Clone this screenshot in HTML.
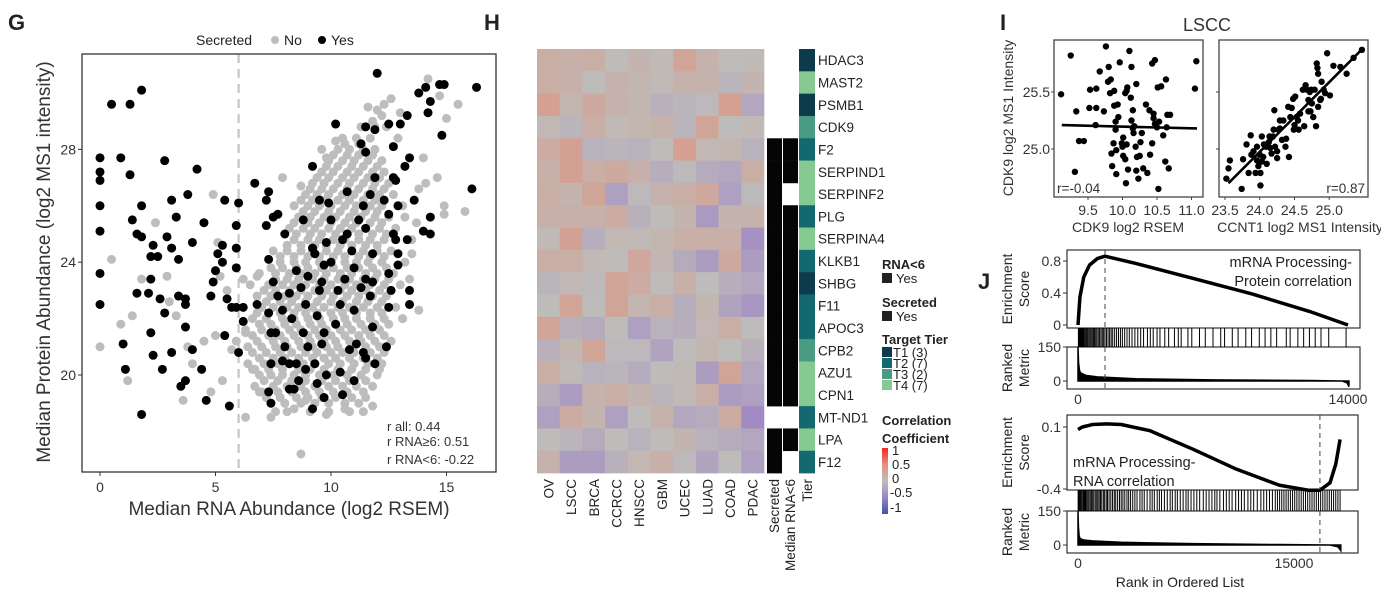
<!DOCTYPE html>
<html><head><meta charset="utf-8">
<style>
html,body{margin:0;padding:0;background:#fff;}
svg{display:block;font-family:"Liberation Sans",Arial,sans-serif;}
</style></head>
<body>
<svg id="fig" width="1381" height="601" viewBox="0 0 1381 601" xmlns="http://www.w3.org/2000/svg">
<defs>
<clipPath id="gclip"><rect x="82" y="54" width="414" height="418"/></clipPath>
<linearGradient id="corrgrad" x1="0" y1="0" x2="0" y2="1">
<stop offset="0" stop-color="#ee2a22"/><stop offset="0.25" stop-color="#e58f80"/><stop offset="0.5" stop-color="#bdbdbd"/><stop offset="0.75" stop-color="#9b84c4"/><stop offset="1" stop-color="#3a55b0"/>
</linearGradient>
</defs>
<!-- Panel letters -->
<text x="8" y="30" font-size="22" font-weight="bold" fill="#222">G</text>
<text x="484" y="30" font-size="22" font-weight="bold" fill="#222">H</text>
<text x="1000" y="30" font-size="22" font-weight="bold" fill="#222">I</text>
<text x="978" y="289" font-size="22" font-weight="bold" fill="#222">J</text>

<!-- G legend -->
<g>
<text x="196" y="45" font-size="14" fill="#222">Secreted</text>
<circle cx="275" cy="40" r="4" fill="#bdbdbd"/>
<text x="284" y="45" font-size="14" fill="#222">No</text>
<circle cx="322" cy="40" r="4" fill="#000"/>
<text x="331" y="45" font-size="14" fill="#222">Yes</text>
</g>
<g id="gplot"></g>
<rect x="82" y="54" width="414" height="418" fill="none" stroke="#333" stroke-width="1.3"/>
<text x="289" y="515" font-size="19" fill="#333" text-anchor="middle">Median RNA Abundance (log2 RSEM)</text>
<text transform="translate(50,262) rotate(-90)" font-size="19" fill="#333" text-anchor="middle">Median Protein Abundance (log2 MS1 intensity)</text>
<g font-size="13" fill="#333">
<text x="387" y="431">r all: 0.44</text>
<text x="387" y="446">r RNA≥6: 0.51</text>
<text x="387" y="464">r RNA&lt;6: -0.22</text>
</g>

<!-- H -->
<g id="hplot"></g>
<g font-size="13" fill="#222">
<text x="882" y="269" font-weight="bold">RNA&lt;6</text>
<rect x="882" y="273" width="10" height="10" fill="#222"/>
<text x="896" y="283">Yes</text>
<text x="882" y="307" font-weight="bold">Secreted</text>
<rect x="882" y="311" width="10" height="10" fill="#222"/>
<text x="896" y="321">Yes</text>
<text x="882" y="344" font-weight="bold">Target Tier</text>
<rect x="882" y="347" width="10" height="10" fill="#0d3b4c"/>
<text x="893" y="357">T1 (3)</text>
<rect x="882" y="358" width="10" height="10" fill="#146870"/>
<text x="893" y="368">T2 (7)</text>
<rect x="882" y="369" width="10" height="10" fill="#4a9b84"/>
<text x="893" y="379">T3 (2)</text>
<rect x="882" y="380" width="10" height="10" fill="#86c991"/>
<text x="893" y="390">T4 (7)</text>
<text x="882" y="425" font-weight="bold">Correlation</text>
<text x="882" y="443" font-weight="bold">Coefficient</text>
<rect x="882" y="448" width="6" height="66" fill="url(#corrgrad)"/>
<text x="892" y="455">1</text>
<text x="892" y="469">0.5</text>
<text x="892" y="483">0</text>
<text x="890" y="497">-0.5</text>
<text x="890" y="512">-1</text>
</g>

<!-- I -->
<text x="1207" y="31" font-size="18" fill="#333" text-anchor="middle">LSCC</text>
<g id="iplot"></g>
<text transform="translate(1013,118) rotate(-90)" font-size="14" fill="#333" text-anchor="middle">CDK9 log2 MS1 Intensity</text>
<text x="1128" y="232" font-size="14" fill="#333" text-anchor="middle">CDK9 log2 RSEM</text>
<text x="1300" y="232" font-size="14" fill="#333" text-anchor="middle">CCNT1 log2 MS1 Intensity</text>

<!-- J -->
<g id="jplot"></g>
<text x="1180" y="587" font-size="14" fill="#222" text-anchor="middle">Rank in Ordered List</text>

<script>
// ---------------- Panel G data ----------------
const gYes = [[0.5,29.6],[1.3,29.6],[1.8,30.1],[0,27.7],[0.9,27.7],[0,27.2],[0,26.9],[1.3,27.1],[2.8,27.6],[4.2,27.3],[0,26],[1.8,26],[3.1,26.2],[1.4,25.5],[3.3,25.6],[3.8,26.4],[0,25.1],[1.6,25],[1.8,24.9],[2.3,24.6],[2.2,24.2],[2.5,24.2],[2.9,24.9],[3.1,24.5],[3.4,24.1],[4,24.7],[4.5,25.4],[0,23.6],[1.6,22.9],[2.1,22.9],[2.2,23.4],[2.6,22.7],[3.4,22.8],[3.7,22.7],[3.7,22.5],[2.8,22.2],[2.2,21.5],[3.7,21.7],[2.3,20.7],[3.1,20.8],[4,20.9],[1,21.1],[1.1,20.2],[2.7,20.2],[0,22.5],[1.8,18.6],[3.5,19.6],[3.7,19.8],[4.4,20.2],[4.6,19.1],[4.8,22.8],[4.9,23.3],[5,23.7],[5.1,24.3],[5.3,24.6],[5.3,24],[5.4,26.2],[5.9,25.3],[5.9,24.5],[6,26.1],[5.9,23.8],[5.5,22.7],[5.7,22.4],[5.9,22.4],[6.2,22.4],[5.4,21.4],[6,20.8],[5.6,18.9],[6.2,21.9],[6.7,26.8],[6.8,22.5],[7.2,26.2],[7.3,26.5],[7.2,25.3],[7.3,24.1],[7.5,25.6],[7.7,25.7],[8,25],[7.5,23.3],[7.7,22.8],[7.3,22.2],[7.4,21.5],[7.4,20.4],[7.3,19.4],[7.4,19],[7.9,20.5],[8.2,20.4],[8.2,19.5],[8.4,19.5],[8.5,20.4],[8.9,20.2],[8.6,19.8],[8.2,22.9],[8.7,23.1],[9,23.5],[9.2,27.4],[9.5,26.2],[9.9,26.1],[8.8,25.5],[9.8,24.7],[10.2,28.9],[9.3,24.3],[9.7,23.9],[9.6,23.3],[8.9,22.5],[9.4,22.1],[9.7,21.5],[9.6,21.1],[9.3,20.4],[9.2,18.8],[9.7,19.2],[10.4,20.1],[10.5,19.3],[10.7,25],[10.9,24.4],[10.6,23.4],[10.4,22.5],[11,23.8],[11.3,23.1],[11.5,23.4],[11.1,21.1],[11.4,20.8],[11.5,20.6],[11.9,20.4],[11.7,22.8],[11.8,23.3],[11.8,24.3],[11.5,25.2],[11.4,26],[11.7,26.4],[11.9,27],[11.5,27.9],[11.3,28.2],[11.9,28.7],[11.5,28.8],[12,30.7],[12.5,28.9],[12.7,28.1],[12.7,27],[12.8,26.9],[12.3,26.2],[12.5,25.7],[12.7,25],[12.8,24.8],[12.5,23.6],[12.6,23],[12.5,22.4],[12.4,21],[12.9,24.3],[12.9,23.9],[13.3,24.8],[13.4,27.7],[13.2,27.4],[13,28.9],[13.3,29.2],[13.6,26.2],[13.4,23],[13.4,22.5],[13.8,30],[14.1,30.2],[14.3,29.7],[14.2,29.3],[14.7,30.3],[14.9,30.3],[14.8,28.5],[16.1,26.6],[16.3,30.2],[14.3,25.6],[14,25.1],[14.3,25],[12.9,26],[8.3,22],[8.8,21.5],[9,21],[8.5,23.7],[9.5,23],[10,24],[10.3,23],[10.5,24.8],[10.2,21.8],[11,22.3],[10.8,20.9],[9.8,20],[11.2,25.5],[10,25.5],[9.2,24.5],[8,21],[7.6,21.5],[7.9,22.3],[9.4,19.7],[10.7,26.5],[11.8,21.7],[11,19.8]];
const gNoScatter = [[0,21],[0.5,24.1],[1.2,19.8],[1.4,22.1],[0.9,21.8],[1.8,23.4],[2.4,25.4],[2.9,23.5],[3,22.6],[3.3,22.1],[3.6,19.1],[3.8,21],[4,20.4],[4.5,21.2],[4.9,26.4],[5.1,24.7],[5.2,23.5],[5.5,23],[5,21.4],[5.3,19.8],[4.8,19.4],[6.3,18.5],[5.7,20.9],[6.2,23.4],[6.5,23.2],[6.8,23.5],[6.3,21.5],[6.6,20.2],[6.9,19.4],[7.4,18.5],[7.9,27],[8.7,26.7],[8.7,17.2],[14.6,27],[14,27.7],[14.1,26.8],[14.9,25.7],[14.9,26],[15.8,25.8],[15.5,29.6],[15,29.1],[14.2,30.5],[14.7,29.9],[13.8,22.3],[13.5,24.3],[13.4,23.4],[13.1,22],[12.3,29.6],[11.8,29],[10.2,28.3],[9.6,28],[9.8,27.7],[10.6,18.8],[11.8,18.9],[9.8,18.6],[8.4,18.8],[8.9,19.1],[12.0,29.4],[12.6,29.8],[11.6,29.5],[13.0,29.3],[13.7,25.4],[13.8,26.6],[13.2,25.6],[12.9,28.4]];
const gNoRowY = [18.7,19.2,19.6,20.0,20.4,20.8,21.2,21.6,22.0,22.4,22.8,23.2,23.6,24.0,24.4,24.8,25.2,25.6,26.0,26.4,26.8,27.2,27.6,28.0,28.4,28.8,29.2];
const gNoRowX = [
[7.6,8.1,9.1,9.9,10.8,11.4],
[7.2,7.8,8.5,9.0,9.6,10.2,10.9,11.5],
[6.7,7.5,8.1,8.7,9.3,9.9,10.5,11.1,11.8],
[6.9,7.4,7.9,8.4,8.9,9.5,10.1,10.7,11.3,12.0],
[6.4,7.1,7.7,8.2,8.8,9.3,9.9,10.4,11.0,11.6,12.2],
[6.6,7.2,7.8,8.3,8.9,9.4,10.0,10.5,11.0,11.7,12.3],
[5.9,6.8,7.5,8.0,8.6,9.1,9.7,10.2,10.8,11.3,11.9,12.6],
[6.3,7.0,7.6,8.2,8.7,9.3,9.8,10.4,10.9,11.5,12.1],
[6.6,7.2,7.9,8.4,9.0,9.5,10.1,10.6,11.1,11.7,12.3,13.1],
[7.0,7.5,8.1,8.6,9.2,9.7,10.3,10.8,11.4,12.0,12.8],
[6.8,7.4,8.0,8.5,9.0,9.6,10.1,10.7,11.2,11.8,12.4],
[7.3,7.9,8.4,8.9,9.5,10.0,10.6,11.1,11.7,12.3,13.0],
[6.9,7.6,8.2,8.7,9.3,9.8,10.4,10.9,11.5,12.0,12.7],
[7.8,8.4,8.9,9.5,10.0,10.6,11.1,11.6,12.2,13.2],
[7.5,8.1,8.7,9.2,9.8,10.3,10.9,11.4,12.0,12.6],
[8.4,9.0,9.5,10.1,10.6,11.2,11.7,12.3,13.5],
[8.2,8.8,9.3,9.9,10.4,10.9,11.5,12.1,12.8],
[8.6,9.1,9.7,10.2,10.8,11.3,11.9,12.5],
[8.4,9.0,9.5,10.0,10.6,11.1,11.7,12.2,13.1],
[8.9,9.4,9.9,10.5,11.0,11.6,12.1,12.7],
[9.2,9.7,10.3,10.8,11.4,11.9,12.5],
[9.6,10.1,10.7,11.2,11.8,12.3],
[9.9,10.5,11.0,11.6,12.2],
[10.3,10.8,11.4,11.9],
[10.5,11.1,11.7],
[11.3,11.9,12.4],
[12.2]];
const gNoRowY2 = [19.0,19.4,19.8,20.2,20.6,21.0,21.4,21.8,22.2,22.6,23.0,23.4,23.8,24.2,24.6,25.0,25.4,25.8,26.2,26.6,27.0,27.4,27.8,28.2];
const gNoRowX2 = [
[7.4,8.0,8.7,9.3,9.9,10.6,11.2],
[7.0,7.7,8.3,8.9,9.5,10.1,10.7,11.4],
[7.1,7.7,8.3,8.9,9.6,10.2,10.8,11.5],
[6.7,7.3,7.9,8.6,9.1,9.7,10.3,10.9,11.5,12.1],
[6.9,7.5,8.0,8.6,9.2,9.7,10.2,10.8,11.4,12.0],
[6.4,7.0,7.6,8.1,8.7,9.2,9.8,10.3,10.9,11.5,12.1],
[6.6,7.3,7.8,8.4,9.0,9.5,10.0,10.6,11.2,11.7,12.3],
[6.9,7.4,8.0,8.5,9.1,9.6,10.2,10.7,11.3,11.9,12.5],
[6.8,7.3,7.8,8.4,8.9,9.4,10.0,10.5,11.1,11.7,12.2],
[7.2,7.8,8.3,8.9,9.4,10.0,10.5,11.1,11.6,12.2],
[7.1,7.6,8.2,8.7,9.3,9.8,10.4,10.9,11.5,12.1,12.6],
[7.6,8.1,8.6,9.2,9.7,10.3,10.8,11.4,11.9,12.5],
[7.4,7.9,8.5,9.0,9.6,10.1,10.7,11.2,11.8,12.4],
[7.8,8.4,9.0,9.5,10.1,10.6,11.2,11.7,12.3],
[8.1,8.7,9.3,9.8,10.4,10.9,11.5,12.0],
[8.5,9.1,9.6,10.2,10.7,11.2,11.8,12.4],
[8.4,9.0,9.5,10.0,10.6,11.1,11.7,12.2],
[8.8,9.3,9.9,10.4,11.0,11.5,12.0],
[8.7,9.2,9.7,10.3,10.8,11.4,11.9],
[9.1,9.6,10.1,10.7,11.2,11.8,12.3],
[9.4,9.9,10.5,11.0,11.6,12.1],
[9.8,10.3,10.9,11.4,12.0],
[10.1,10.7,11.2,11.8],
[10.6,11.2]];
const gXTicks = [0,5,10,15];
const gYTicks = [20,24,28];
const gCutoff = 6;

// ---------------- Panel H data ----------------
const hCols = ["OV","LSCC","BRCA","CCRCC","HNSCC","GBM","UCEC","LUAD","COAD","PDAC"];
const hGenes = ["HDAC3","MAST2","PSMB1","CDK9","F2","SERPIND1","SERPINF2","PLG","SERPINA4","KLKB1","SHBG","F11","APOC3","CPB2","AZU1","CPN1","MT-ND1","LPA","F12"];
const hVals = [
[.15,.12,.15,0,.08,.03,.25,.1,0,.02],
[.15,.12,0,.1,.07,.03,.1,.1,-.05,.08],
[.3,.07,.2,.1,.07,-.08,-.05,-.03,.3,-.15],
[.04,-.05,.15,.02,.07,.1,-.05,.25,0,.03],
[.18,.28,-.07,-.05,-.07,0,.3,.05,.07,-.07],
[.12,.28,.15,.2,.12,-.1,-.02,-.12,-.15,.15],
[.15,.08,.25,-.2,-.03,.1,.15,.22,-.2,-.02],
[.12,.12,.12,.18,-.08,0,.08,-.25,.08,.1],
[.03,.28,-.1,.05,.03,.07,.13,.13,.13,-.3],
[.15,.15,.03,0,.22,.06,-.12,-.22,.2,-.22],
[-.05,.04,-.03,.25,.18,0,.13,0,-.1,-.15],
[0,.25,0,.25,.07,.15,-.1,.07,-.18,-.28],
[.25,-.08,-.12,0,-.2,-.07,-.1,.05,.15,0],
[-.08,.07,.25,-.03,-.03,-.18,0,.07,0,-.08],
[.15,.02,-.07,-.05,-.12,0,.02,-.22,.25,-.15],
[-.1,-.22,.1,.15,.08,-.05,.03,.15,-.22,-.2],
[-.2,.18,.08,-.2,0,.1,-.15,-.12,.18,-.35],
[0,-.05,-.12,0,-.07,0,.08,-.07,-.12,-.15],
[.1,-.22,-.22,-.08,.05,.12,-.03,-.17,0,-.2]];
const hSecreted = [0,0,0,0,1,1,1,1,1,1,1,1,1,1,1,1,0,1,1];
const hRnaLow   = [0,0,0,0,1,1,0,1,1,1,1,1,1,1,1,1,0,1,0];
const hTier     = [1,4,1,3,2,4,4,2,4,2,1,2,2,3,4,4,2,4,2];
const tierColors = ["","#0d3b4c","#146870","#4a9b84","#86c991"];

// ---------------- Panel I data ----------------
const iLeftX = [9.11,9.25,9.33,9.31,9.37,9.44,9.53,9.62,9.61,9.52,9.62,9.67,9.73,9.76,9.80,9.79,9.82,9.88,9.90,9.91,9.90,9.88,9.83,9.84,9.85,9.87,9.91,9.93,9.94,9.96,9.99,10.00,10.01,10.01,10.04,10.06,10.07,10.04,10.05,10.06,10.08,10.10,10.13,10.12,10.13,10.15,10.15,10.17,10.16,10.19,10.20,10.21,10.23,10.20,10.25,10.26,10.28,10.30,10.34,10.36,10.39,10.40,10.43,10.43,10.45,10.45,10.47,10.47,10.50,10.51,10.52,10.53,10.56,10.59,10.62,10.63,10.64,10.65,10.67,10.69,11.05,11.07];
const iLeftY = [25.48,25.82,25.33,24.80,25.07,25.07,25.52,25.36,25.21,25.36,25.53,25.68,25.33,25.90,25.72,25.59,25.49,25.51,25.17,24.78,25.24,25.38,25.61,24.96,24.85,25.05,24.99,25.39,25.28,25.76,25.05,25.02,25.10,24.94,25.49,25.51,25.54,24.91,24.70,25.04,24.82,25.86,25.72,25.45,25.25,25.18,25.34,25.20,25.14,25.02,25.57,24.93,24.74,24.81,24.94,25.06,25.14,24.83,25.39,24.79,25.34,24.95,25.05,25.75,25.31,25.27,25.78,25.22,25.19,25.54,24.65,25.24,25.55,25.12,24.89,25.61,25.19,25.30,24.83,25.30,25.53,25.77];
const iRightX = [23.52,23.55,23.57,23.74,23.76,23.81,23.84,23.87,23.88,23.91,23.94,23.96,23.98,24.01,24.01,24.03,24.03,24.05,24.06,24.09,24.10,24.13,24.14,24.15,24.19,24.20,24.22,24.25,24.25,24.27,24.21,24.29,24.32,24.34,24.37,24.38,24.41,24.42,24.44,24.46,24.48,24.49,24.50,24.51,24.53,24.56,24.58,24.62,24.64,24.66,24.68,24.70,24.72,24.73,24.74,24.75,24.77,24.79,24.81,24.82,24.83,24.84,24.84,24.87,24.88,24.89,24.92,24.94,24.97,25.01,25.06,25.16,25.25,25.35,25.47,23.96,24.00,24.17,24.29,24.55,24.70];
const iRightY = [24.74,24.83,24.90,24.65,24.91,25.04,24.79,25.12,24.95,24.98,24.79,24.90,24.85,24.68,24.79,24.89,25.11,24.93,25.04,25.02,24.87,25.06,25.11,25.01,25.11,25.17,25.02,24.98,24.92,25.17,25.34,25.25,25.08,25.25,25.02,25.09,25.37,24.93,25.28,25.36,25.44,25.17,25.21,25.46,25.28,25.17,25.31,25.52,25.20,25.56,25.52,25.43,25.50,25.33,25.52,25.40,25.28,25.52,25.20,25.75,25.71,25.66,25.37,25.43,25.44,25.59,25.52,25.49,25.84,25.47,25.73,25.72,25.66,25.80,25.87,25.02,24.95,24.96,25.18,25.25,25.33];
const iLeftFit = [[9.12,25.21],[11.08,25.18]];
const iRightFit = [[23.55,24.70],[25.48,25.88]];
const iLeftXTicks = ["9.5","10.0","10.5","11.0"];
const iRightXTicks = ["23.5","24.0","24.5","25.0"];
const iYTicks = ["25.0","25.5"];
const iR = ["r=-0.04","r=0.87"];

// ---------------- Panel J data ----------------
const jTopRank = [0,100,300,600,1000,1400,3000,6000,9000,12000,14000];
const jTopES   = [0,0.35,0.6,0.75,0.83,0.86,0.77,0.58,0.39,0.17,0.0];
const jTopHits = [20,50,80,110,140,170,200,230,260,300,350,400,450,500,560,620,680,740,800,860,920,980,1050,1120,1190,1260,1330,1400,1480,1560,1640,1720,1800,1900,2000,2100,2200,2300,2420,2540,2660,2800,2950,3100,3250,3400,3600,3750,3900,4100,4250,4500,4700,5000,5200,5350,5700,5900,6300,6600,7000,7400,7600,8000,8300,8700,9000,9400,9700,10000,10300,10800,11000,11400,11700,12000,12300,12600,13000,13900];
const jTopMetricRank = [0,30,80,150,400,1000,3000,7000,12000,13700,13950,14050];
const jTopMetric     = [150,80,45,35,25,18,10,5,2,0,-8,-25];
const jTopLead = 1400;
const jBotRank = [0,300,1000,2000,3000,5000,8000,11000,14000,16000,16800,17500,17900,18200];
const jBotES   = [0.08,0.10,0.12,0.125,0.12,0.07,-0.08,-0.24,-0.37,-0.41,-0.41,-0.35,-0.2,0.0];
const jBotHits = [10,60,110,170,230,300,380,450,520,600,680,760,850,930,1020,1100,1200,1300,1380,1470,1560,1650,1760,1850,1960,2050,2160,2280,2400,2520,2620,2750,2880,3000,3120,3250,3400,3520,3650,3800,3950,4100,4300,4450,4600,4800,5000,5150,5300,5500,5650,5800,6000,6200,6400,6550,6750,6900,7100,7300,7500,7650,7850,8050,8250,8450,8700,8900,9100,9300,9500,9650,9850,10100,10300,10500,10700,10950,11150,11350,11550,11800,12000,12200,12450,12700,12900,13100,13300,13500,13700,13850,14000,14150,14300,14450,14600,14750,14900,15050,15200,15350,15500,15650,15800,15950,16100,16250,16400,16550,16700,16850,17000,17150,17300,17450,17600,17750,17900,18050,18200];
const jBotMetricRank = [0,30,80,150,400,1000,3000,8000,14000,17500,18050,18250];
const jBotMetric     = [150,80,40,28,22,18,12,6,2,0,-8,-25];
const jBotLead = 16800;

const NS = "http://www.w3.org/2000/svg";
function mk(tag, attrs, parent){
  const e = document.createElementNS(NS, tag);
  for (const k in attrs) e.setAttribute(k, attrs[k]);
  parent.appendChild(e);
  return e;
}
function txt(parent, x, y, s, size, anchor, extra){
  const t = mk("text", Object.assign({x:x, y:y, "font-size":size, fill:"#333", "text-anchor":anchor||"start"}, extra||{}), parent);
  t.textContent = s;
  return t;
}

// ===== Panel G =====
(function(){
  const g = document.getElementById("gplot");
  const gx = v => 100 + v*23.1;
  const gy = v => 375 - (v-20)*28.2;
  const pts = mk("g", {"clip-path":"url(#gclip)"}, g);
  
  
  const cut = mk("line", {x1:gx(gCutoff), x2:gx(gCutoff), y1:54, y2:472, stroke:"#c4c4c4", "stroke-width":2.2, "stroke-dasharray":"9,6"}, pts);
  
  
  const allNo = gNoScatter.slice();
  gNoRowY.forEach((y,i)=>gNoRowX[i].forEach(x=>allNo.push([x,y])));
  gNoRowY2.forEach((y,i)=>gNoRowX2[i].forEach(x=>allNo.push([x,y])));
  allNo.forEach(p=>{
    const c = mk("circle", {cx:gx(p[0]), cy:gy(p[1]), r:4.5, fill:"#bdbdbd"}, pts);
    
    
  });
  gYes.forEach(p=>{
    const c = mk("circle", {cx:gx(p[0]), cy:gy(p[1]), r:4.5, fill:"#000"}, pts);
    
    
  });
  gXTicks.forEach(v=>{
    const l = mk("line", {x1:gx(v), x2:gx(v), y1:472, y2:476, stroke:"#333"}, g);
    
    
    const t = txt(g, gx(v), 492, String(v), 14, "middle");
    
    
  });
  gYTicks.forEach(v=>{
    const l = mk("line", {x1:78, x2:82, y1:gy(v), y2:gy(v), stroke:"#333"}, g);
    
    
    const t = txt(g, 76, gy(v)+5, String(v), 14, "end");
    
    
  });
})();

// ===== Panel H =====
(function(){
  const g = document.getElementById("hplot");
  const x0 = 537, cw = 22.7, y0 = 49, rh = 22.32;
  function lerp(a,b,t){return a.map((v,i)=>Math.round(v+(b[i]-v)*t));}
  function col(v){
    const grey=[190,188,186], pos=[228,140,118], red=[236,40,34], neg=[150,118,200], blue=[58,85,176];
    let c;
    if (v>=0) c = v<=0.5 ? lerp(grey,pos,v/0.5) : lerp(pos,red,(v-0.5)/0.5);
    else { const a=-v; c = a<=0.5 ? lerp(grey,neg,a/0.5) : lerp(neg,blue,(a-0.5)/0.5); }
    return "rgb("+c.join(",")+")";
  }
  hVals.forEach((row,r)=>{
    row.forEach((v,c)=>{
      const cell = mk("rect", {x:x0+c*cw, y:y0+r*rh, width:cw+0.3, height:rh+0.3, fill:col(v)}, g);
      
      
    });
    if (hSecreted[r]) {
      const s = mk("rect", {x:767, y:y0+r*rh, width:15, height:rh+0.3, fill:"#050505"}, g);
      
      
    }
    if (hRnaLow[r]) {
      const s = mk("rect", {x:783, y:y0+r*rh, width:15, height:rh+0.3, fill:"#050505"}, g);
      
      
    }
    const t = mk("rect", {x:799, y:y0+r*rh, width:16, height:rh+0.3, fill:tierColors[hTier[r]]}, g);
    
    
    const lab = txt(g, 818, y0+r*rh+rh/2+5, hGenes[r], 13.5, "start", {fill:"#222"});
    
    
  });
  hCols.forEach((c,i)=>{
    const cx = x0+i*cw+cw/2+5;
    const t = txt(g, 0, 0, c, 13.5, "end", {transform:"translate("+cx+",479) rotate(-90)", fill:"#222"});
    
    
  });
  [["Secreted",779],["Median RNA<6",795],["Tier",812]].forEach(a=>{
    const t = txt(g, 0, 0, a[0], 13.5, "end", {transform:"translate("+a[1]+",479) rotate(-90)", fill:"#222"});
    
    
  });
})();

// ===== Panel I =====
(function(){
  const g = document.getElementById("iplot");
  const iy = v => 149 - (v-25)*114;
  const lx = v => 1088 + (v-9.5)*69;
  const rx = v => 1225 + (v-23.5)*69.5;
  [[1054,lx,iLeftX,iLeftY,iLeftFit,iLeftXTicks,"left"],[1219,rx,iRightX,iRightY,iRightFit,iRightXTicks,"right"]].forEach((P,k)=>{
    const [bx, sx, X, Y, fit, ticks, side] = P;
    const fr = mk("rect", {x:bx, y:40, width:149, height:157, fill:"none", stroke:"#444", "stroke-width":1.3}, g);
    
    
    X.forEach((x,i)=>{
      const c = mk("circle", {cx:sx(x), cy:iy(Y[i]), r:3.2, fill:"#000"}, g);
      
      
    });
    const ln = mk("line", {x1:sx(fit[0][0]), y1:iy(fit[0][1]), x2:sx(fit[1][0]), y2:iy(fit[1][1]), stroke:"#000", "stroke-width":2.6}, g);
    
    
    ticks.forEach(s=>{
      const v = parseFloat(s);
      const tk = mk("line", {x1:sx(v), x2:sx(v), y1:197, y2:200, stroke:"#444"}, g);
      
      
      const t = txt(g, sx(v), 215, s, 14, "middle");
      
      
    });
    iYTicks.forEach(s=>{
      const v = parseFloat(s);
      const tk = mk("line", {x1:bx-3, x2:bx, y1:iy(v), y2:iy(v), stroke:"#444"}, g);
      
      
      if (k===0) {
        const t = txt(g, bx-4, iy(v)+5, s, 14, "end");
        
        
      }
    });
    const rt = k===0 ? txt(g, bx+3, 193, iR[k], 13.5, "start") : txt(g, bx+146, 193, iR[k], 13.5, "end");
    
    
  });
})();

// ===== Panel J =====
(function(){
  const g = document.getElementById("jplot");
  function panel(o){
    const sx = r => o.x0 + r*o.pxPerRank;
    const esy = v => o.esZero - v*o.esScale;
    const my = v => o.mZero - v*o.mScale;
    const f1 = mk("rect", {x:1067, y:o.esTop, width:o.right-1067, height:o.esBot-o.esTop, fill:"none", stroke:"#333", "stroke-width":1.2}, g);
    
    
    const f2 = mk("rect", {x:1067, y:o.hitBot, width:o.right-1067, height:o.mBot-o.hitBot, fill:"none", stroke:"#333", "stroke-width":1.2}, g);
    
    
    o.hits.forEach(h=>{
      const l = mk("line", {x1:sx(h), x2:sx(h), y1:o.esBot, y2:o.hitBot, stroke:"#000", "stroke-width":1}, g);
      
      
    });
    let d = "M"+sx(o.mRank[0])+","+my(0);
    o.mRank.forEach((r,i)=>{ d += " L"+sx(r)+","+my(o.metric[i]); });
    d += " L"+sx(o.mRank[o.mRank.length-1])+","+my(0)+" Z";
    const a = mk("path", {d:d, fill:"#000", stroke:"#000", "stroke-width":1.5}, g);
    
    
    const pts = o.rank.map((r,i)=>sx(r)+","+esy(o.es[i])).join(" ");
    const c = mk("polyline", {points:pts, fill:"none", stroke:"#000", "stroke-width":3.5, "stroke-linejoin":"round"}, g);
    
    
    [[o.esTop,o.esBot],[o.hitBot,o.mBot]].forEach(seg=>{
      const dl = mk("line", {x1:sx(o.lead), x2:sx(o.lead), y1:seg[0], y2:seg[1], stroke:"#444", "stroke-width":1, "stroke-dasharray":"5,4"}, g);
      
      
    });
    o.esTicks.forEach(s=>{
      const v = parseFloat(s);
      const tk = mk("line", {x1:1063, x2:1067, y1:esy(v), y2:esy(v), stroke:"#333"}, g);
      
      
      const t = txt(g, 1061, esy(v)+5, s, 14, "end");
      
      
    });
    ["150","0"].forEach(s=>{
      const v = parseFloat(s);
      const tk = mk("line", {x1:1063, x2:1067, y1:my(v), y2:my(v), stroke:"#333"}, g);
      
      
      const t = txt(g, 1061, my(v)+5, s, 14, "end");
      
      
    });
    o.xTicks.forEach(v=>{
      const t = txt(g, sx(v), o.mBot+15, String(v), 14, "middle");
      
      
    });
    const midES = (o.esTop+o.esBot)/2, midM = (o.hitBot+o.mBot)/2;
    const t1 = txt(g, 0, 0, "Enrichment", 14, "middle", {transform:"translate(1012,"+midES+") rotate(-90)", fill:"#222"});
    
    
    const t2 = txt(g, 0, 0, "Score", 14, "middle", {transform:"translate(1029,"+midES+") rotate(-90)", fill:"#222"});
    
    
    const t3 = txt(g, 0, 0, "Ranked", 14, "middle", {transform:"translate(1012,"+midM+") rotate(-90)", fill:"#222"});
    
    
    const t4 = txt(g, 0, 0, "Metric", 14, "middle", {transform:"translate(1029,"+midM+") rotate(-90)", fill:"#222"});
    
    
    o.label.forEach((s,i)=>{
      const t = txt(g, o.labelX, o.labelY+i*19, s, 14.5, o.labelAnchor, {fill:"#222"});
      
      
    });
  }
  panel({name:"j-top", x0:1078, pxPerRank:270/14000, right:1360, esTop:250, esBot:328, esZero:325, esScale:80,
    hitBot:347, mBot:389, mZero:381, mScale:34/150, rank:jTopRank, es:jTopES, hits:jTopHits,
    mRank:jTopMetricRank, metric:jTopMetric, lead:jTopLead, esTicks:["0.8","0.4","0"], xTicks:[0,14000],
    label:["mRNA Processing-","Protein correlation"], labelX:1352, labelY:267, labelAnchor:"end"});
  panel({name:"j-bottom", x0:1078, pxPerRank:216/15000, right:1358, esTop:415, esBot:490, esZero:439.4, esScale:124,
    hitBot:511, mBot:553, mZero:545, mScale:34/150, rank:jBotRank, es:jBotES, hits:jBotHits,
    mRank:jBotMetricRank, metric:jBotMetric, lead:jBotLead, esTicks:["0.1","-0.4"], xTicks:[0,15000],
    label:["mRNA Processing-","RNA correlation"], labelX:1073, labelY:467, labelAnchor:"start"});
})();
</script>
</svg>
</body></html>
